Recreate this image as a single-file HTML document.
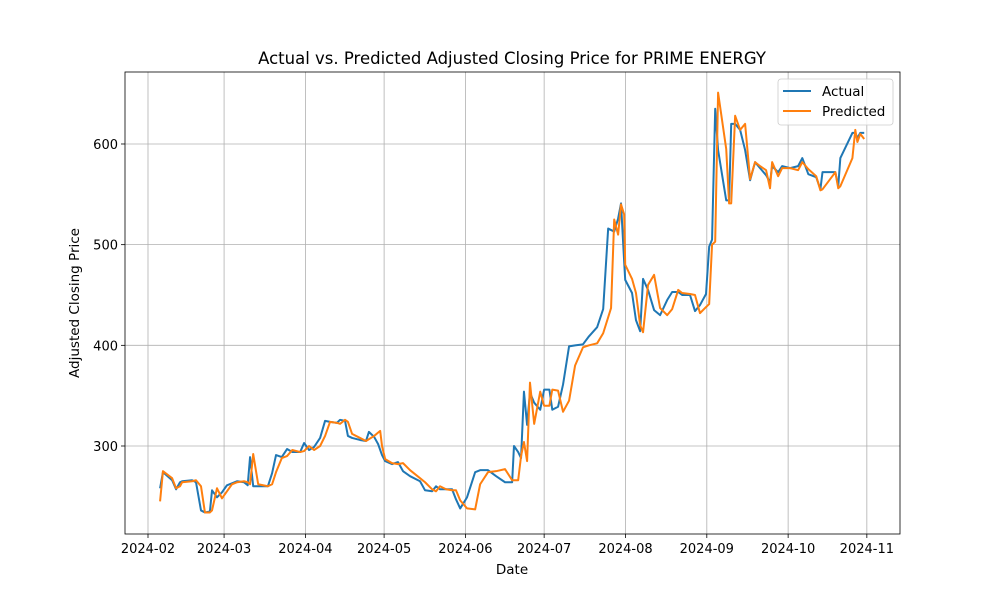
<!DOCTYPE html>
<html><head><meta charset="utf-8"><style>
body{margin:0;background:#fff}
svg{display:block;font-family:"DejaVu Sans","Liberation Sans",sans-serif}
</style></head><body>
<svg id="chart" width="1000" height="600">
<rect x="0" y="0" width="1000" height="600" fill="#fff"/>
</svg>
<script>
const actualDays=[4.6,5.7,9.2,10.7,12.2,13,16.8,18.3,20.2,21.7,23.6,24.4,26.3,28.2,30.1,32,34,36.6,38,38.9,40.1,42,45.7,47.3,48.8,51,53,55,58,59.5,61.4,63.3,65.6,67.5,69.4,72,73.2,75.1,76.2,77.8,80.8,83.1,84.2,86.2,87.7,89.2,90.4,93,95.3,97.2,99.9,103.7,105.6,108.3,109.8,111.3,113.6,115.9,117.4,119,121.6,124.7,126.6,129.6,132.7,136.1,138.8,139.5,141.1,142.2,143.3,144.5,145.6,147.2,149.5,151,153,154.1,156.3,158.2,160.5,162.8,165.8,168.1,171.2,173.5,175.4,177.7,179.2,180.3,181.5,181.9,184.5,186,187.6,188.7,190.6,192.9,195.2,197.9,199.8,202.1,203.6,206.6,208.5,210.4,212.7,213.9,215,216.2,217.3,220.4,221.5,222.3,223.8,225.7,227.6,229.5,231.4,233.3,235.6,237.1,237.9,240.2,241.7,244.8,247.8,249.4,251.7,254.7,256.3,257.1,262,263.1,263.9,268.5,269.6,270.4,271.5,273];
const actualValues=[258,274,266,257,264,265,266,264,236,234,235,256,249,254,261,263,265,264,261,289,260,260,260,273,291,289,297,294,294,303,296,299,308,325,324,323,326,325,310,308,306,305,314,309,302,291,285,282,284,275,270,265,256,255,260,257,257,257,247,238,249,274,276,276,270,264,264,300,294,288,354,321,353,343,336,356,356,336,339,361,399,400,401,409,418,436,516,513,526,541,483,465,452,425,414,466,455,435,430,445,453,453,450,450,434,440,451,498,505,635,594,544,544,620,620,614,594,564,582,576,569,562,578,572,578,576,578,586,570,567,555,572,572,558,586,611,611,606,611,611];
const predDays=[4.6,5.7,9.2,10.7,12.2,13,16.8,18.3,20.2,21.7,23.6,24.4,26.3,28.2,30.1,32,34,36.6,38,38.9,40.1,42,45.7,47.3,48.8,51,53,55,58,59.5,61.4,63.3,65.6,67.5,69.4,72,73.2,75.1,76.2,77.8,80.8,83.1,86.2,88.5,89.2,90.4,93,95.3,97.2,99.9,103.7,105.6,108.3,109.8,111.3,113.6,115.9,117.4,119,121.6,124.7,126.6,129.6,132.7,136.1,138.8,139.5,141.1,142.2,143.3,144.5,145.6,147.2,149.5,151,153,154.1,156.3,158.2,160.5,162.8,165.8,168.1,171.2,173.5,176.5,177.7,179.2,180.3,181.5,181.9,184.5,186,187.6,188.7,190.6,192.9,195.2,197.9,199.8,202.1,203.6,206.6,208.5,210.4,212.7,213.9,215,216.2,217.3,220.4,221.5,222.3,223.8,225.7,227.6,229.5,231.4,233.3,235.6,237.1,237.9,240.2,241.7,244.8,247.8,249.4,251.7,254.7,256.3,257.1,262,263.1,263.9,268.5,269.6,270.4,271.5,273];
const predValues=[245,275,268,258,260,264,265,266,260,234,234,236,258,248,255,262,264,265,264,262,292,262,260,262,274,288,290,296,294,295,300,296,300,310,324,323,322,326,324,312,308,305,310,315,300,287,283,282,283,276,268,264,257,255,260,257,256,256,246,238,237,262,274,275,277,266,266,266,290,304,285,363,322,354,340,340,356,355,334,345,380,398,400,402,412,437,525,510,540,530,480,466,452,420,413,460,470,437,430,436,455,452,451,450,432,438,441,500,503,651,595,541,541,628,614,620,565,582,578,574,556,582,568,576,576,574,582,575,568,554,555,572,556,558,586,614,602,610,605];
const xTicks=[0,29,60,90,121,151,182,213,244,274];
const xTickLabels=["2024-02","2024-03","2024-04","2024-05","2024-06","2024-07","2024-08","2024-09","2024-10","2024-11"];
const yTicks=[300,400,500,600];

const NS="http://www.w3.org/2000/svg";
const svg=document.getElementById('chart');
const L=125,R=900,T=72,B=534;
const xs=d=>148+d*2.6235;
const ys=v=>446-(v-300)*1.0067;
function mk(tag,attrs,parent){const e=document.createElementNS(NS,tag);for(const k in attrs)e.setAttribute(k,attrs[k]);(parent||svg).appendChild(e);return e;}

const grid=mk('g',{});


xTicks.forEach((d,i)=>{
  const x=xs(d);
  const gl=mk('line',{x1:x,x2:x,y1:T,y2:B,stroke:'#b0b0b0','stroke-width':0.8},grid);
  
  
  const tk=mk('line',{x1:x,x2:x,y1:B,y2:B+4,stroke:'#000','stroke-width':0.8});
  
  
  const t=mk('text',{x:x,y:B+19,'text-anchor':'middle','font-size':13,fill:'#000'});
  t.textContent=xTickLabels[i];
  
  
});
yTicks.forEach(v=>{
  const y=ys(v);
  const gl=mk('line',{x1:L,x2:R,y1:y,y2:y,stroke:'#b0b0b0','stroke-width':0.8},grid);
  
  
  const tk=mk('line',{x1:L-4,x2:L,y1:y,y2:y,stroke:'#000','stroke-width':0.8});
  
  
  const t=mk('text',{x:L-7,y:y+5,'text-anchor':'end','font-size':13,fill:'#000'});
  t.textContent=v;
  
  
});

function line(days,vals,color,name){
  const p=mk('polyline',{points:days.map((d,i)=>xs(d)+','+ys(vals[i])).join(' '),fill:'none',stroke:color,'stroke-width':2,'stroke-linejoin':'round'});
  
  
}
line(actualDays,actualValues,'#1f77b4','actual-line');
line(predDays,predValues,'#ff7f0e','predicted-line');

const frame=mk('rect',{x:L,y:T,width:R-L,height:B-T,fill:'none',stroke:'#000','stroke-width':0.8});



const title=mk('text',{x:512,y:64,'text-anchor':'middle','font-size':16.5,fill:'#000'});
title.textContent='Actual vs. Predicted Adjusted Closing Price for PRIME ENERGY';


const xl=mk('text',{x:512,y:574,'text-anchor':'middle','font-size':13.5,fill:'#000'});
xl.textContent='Date';


const yl=mk('text',{x:0,y:0,'text-anchor':'middle','font-size':13.5,fill:'#000',transform:'translate(79,303) rotate(-90)'});
yl.textContent='Adjusted Closing Price';



const lg=mk('g',{});


mk('rect',{x:778,y:79,width:115,height:46,rx:3,fill:'#fff','fill-opacity':0.8,stroke:'#ccc','stroke-width':0.8},lg);
[['Actual','#1f77b4',91],['Predicted','#ff7f0e',111]].forEach(([n,c,y])=>{
  const ln=mk('line',{x1:783,x2:811,y1:y,y2:y,stroke:c,'stroke-width':2},lg);
  
  
  const t=mk('text',{x:822,y:y+5,'font-size':13.5,fill:'#000'},lg);
  t.textContent=n;
  
  
});
</script>
</body></html>
